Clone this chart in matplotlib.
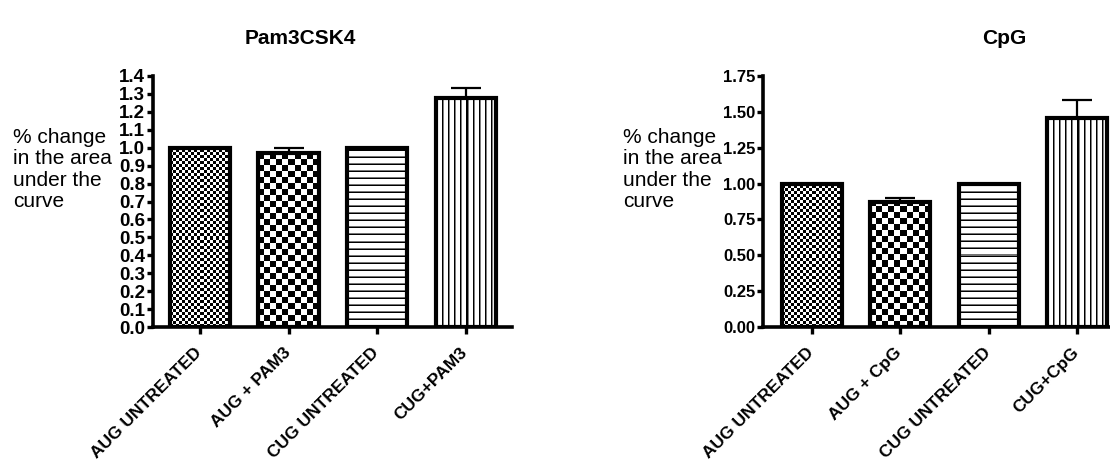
import numpy as np
import matplotlib
matplotlib.use("Agg")
import matplotlib.pyplot as plt
from matplotlib.transforms import ScaledTranslation

plt.rcParams['font.family'] = ['Liberation Sans', 'DejaVu Sans']

# ---- data ----
pam_categories = ["AUG UNTREATED", "AUG + PAM3", "CUG UNTREATED", "CUG+PAM3"]
pam_values = [1.0, 0.97, 1.0, 1.28]
pam_errors = [0.0, 0.03, 0.0, 0.055]
pam_yticks = [0.0, 0.1, 0.2, 0.3, 0.4, 0.5, 0.6, 0.7, 0.8, 0.9, 1.0, 1.1, 1.2, 1.3, 1.4]

cpg_categories = ["AUG UNTREATED", "AUG + CpG", "CUG UNTREATED", "CUG+CpG"]
cpg_values = [1.0, 0.875, 1.0, 1.455]
cpg_errors = [0.0, 0.025, 0.0, 0.125]
cpg_yticks = [0.0, 0.25, 0.5, 0.75, 1.0, 1.25, 1.5, 1.75]

patterns = ["fine_checker", "coarse_checker", "hlines", "vlines"]
ylabel_text = "% change\nin the area\nunder the\ncurve"

W, H = 1110, 466
DPI = 100
fig = plt.figure(figsize=(W / DPI, H / DPI), dpi=DPI)


def make_pattern(kind, w, h):
    i, j = np.mgrid[0:h, 0:w]
    if kind == "fine_checker":
        c = 3
        arr = ((i // c + j // c) % 2).astype(float)
    elif kind == "coarse_checker":
        c = 6
        arr = ((i // c + j // c) % 2).astype(float)
    elif kind == "hlines":
        s = 7
        arr = np.ones((h, w))
        arr[(i % s) == 0] = 0.0
        arr[(i % s) == 1] = 0.45
    else:
        s = 6
        arr = np.ones((h, w))
        arr[(j % s) == 0] = 0.0
        arr[(j % s) == 1] = 0.5
    return arr


def panel(rect, cats, vals, errs, yticks, ylim, xlim, fmt, ytick_fs, title, title_x, label_x):
    ax = fig.add_axes(rect)
    x = np.arange(len(cats))
    bars = ax.bar(x, vals, width=0.68, facecolor='none', edgecolor='black',
                  linewidth=3.0, zorder=3)
    ax.errorbar(x, vals, yerr=[np.zeros(len(errs)), errs], fmt='none',
                ecolor='black', elinewidth=1.6, capsize=11, capthick=1.6, zorder=2)
    ax.set_xlim(*xlim)
    ax.set_ylim(*ylim)
    fig.canvas.draw()
    for b, kind in zip(bars, patterns):
        x0, y0 = b.get_x(), b.get_y()
        x1, y1 = x0 + b.get_width(), y0 + b.get_height()
        p0 = ax.transData.transform((x0, y0))
        p1 = ax.transData.transform((x1, y1))
        pw = max(int(round(p1[0] - p0[0])), 1)
        ph = max(int(round(p1[1] - p0[1])), 1)
        arr = make_pattern(kind, pw, ph)
        im = ax.imshow(arr, extent=(x0, x1, y0, y1), origin='lower', aspect='auto',
                       cmap='gray', vmin=0, vmax=1, interpolation='nearest', zorder=1)
        im.set_clip_path(b)
    ax.set_xlim(*xlim)
    ax.set_ylim(*ylim)
    ax.set_yticks(yticks)
    ax.set_yticklabels([fmt.format(v) for v in yticks], fontweight='bold', fontsize=ytick_fs)
    ax.set_xticks(x)
    ax.set_xticklabels([''] * len(cats))
    lab_tr = ax.get_xaxis_transform() + ScaledTranslation(-0.06, -0.175, fig.dpi_scale_trans)
    for xi, c in zip(x, cats):
        ax.text(xi, 0, c, transform=lab_tr, rotation=45, ha='right', va='top',
                rotation_mode='anchor', fontweight='bold', fontsize=12.5, clip_on=False)
    for s in ['top', 'right']:
        ax.spines[s].set_visible(False)
    for s in ['left', 'bottom']:
        ax.spines[s].set_linewidth(2.6)
    ax.tick_params(axis='y', length=4.5, width=2.4, pad=1)
    ax.tick_params(axis='x', length=5, width=2.4, pad=4)
    fig.text(title_x / W, 1 - 39 / H, title, ha='center', va='center',
             fontsize=15, fontweight='bold')
    fig.text(label_x / W, 1 - 128 / H, ylabel_text, ha='left', va='top',
             fontsize=15, linespacing=1.15)
    return ax


panel([153 / W, 1 - 327 / H, 359 / W, 251 / H], pam_categories, pam_values, pam_errors,
      pam_yticks, (0, 1.4), (-0.53, 3.52), "{:.1f}", 13.5, "Pam3CSK4", 300, 13)
panel([763 / W, 1 - 327 / H, 363 / W, 251 / H], cpg_categories, cpg_values, cpg_errors,
      cpg_yticks, (0, 1.75), (-0.555, 3.555), "{:.2f}", 12.0, "CpG", 1004, 623)

fig.savefig("out.png", dpi=DPI)
